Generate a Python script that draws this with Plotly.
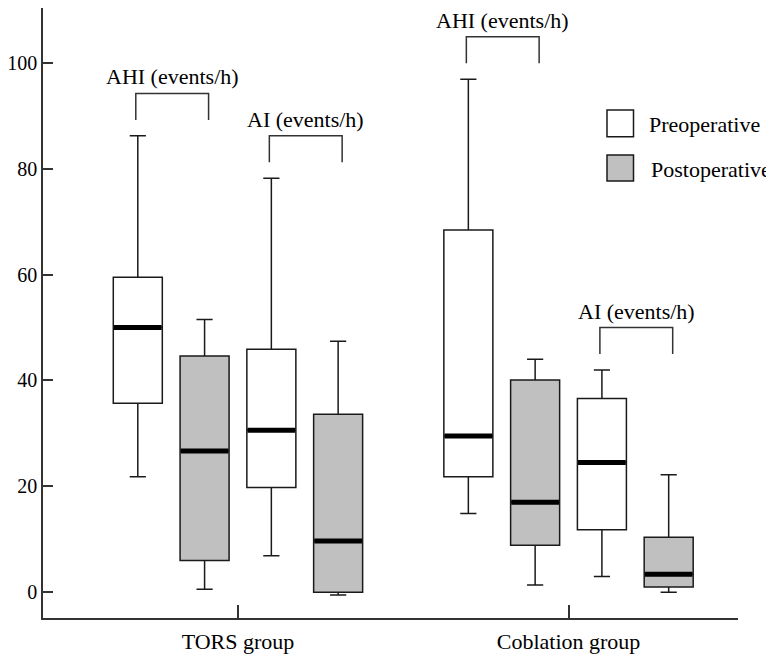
import plotly.graph_objects as go

# ---- data ----
group_labels = ["TORS group", "Coblation group"]
phase_names = ["Preoperative", "Postoperative"]
box_positions = [1, 2, 3, 4, 5.95, 6.95, 7.95, 8.95]
box_phase = [0, 1, 0, 1, 0, 1, 0, 1]
lower_whisker = [21.8, 0.6, 6.9, -0.5, 14.9, 1.4, 3.0, 0.0]
q1_values = [35.7, 6.0, 19.8, 0.0, 21.8, 8.9, 11.8, 1.0]
median_values = [50.0, 26.7, 30.6, 9.7, 29.5, 17.0, 24.5, 3.4]
q3_values = [59.5, 44.6, 45.9, 33.6, 68.4, 40.1, 36.6, 10.4]
upper_whisker = [86.2, 51.5, 78.2, 47.4, 96.9, 44.0, 42.0, 22.2]
bracket_labels = ["AHI (events/h)", "AI (events/h)", "AHI (events/h)", "AI (events/h)"]
bracket_pairs = [(0, 1), (2, 3), (4, 5), (6, 7)]
y_ticks = [0, 20, 40, 60, 80, 100]

# ---- styling ----
FONT = "Liberation Serif"
FILLS = ["#ffffff", "#c0c0c0"]
LINE = "#1a1a1a"
BOX_W = 0.734

fig = go.Figure()

for i, pos in enumerate(box_positions):
    fig.add_trace(go.Box(
        x=[pos], q1=[q1_values[i]], median=[median_values[i]], q3=[q3_values[i]],
        lowerfence=[lower_whisker[i]], upperfence=[upper_whisker[i]],
        width=BOX_W, whiskerwidth=0.33, boxpoints=False,
        fillcolor=FILLS[box_phase[i]], line=dict(color=LINE, width=1.5),
        showlegend=False, hoverinfo="skip",
    ))

# thick median bars
mx, my = [], []
for i, pos in enumerate(box_positions):
    mx += [pos - BOX_W / 2 + 0.01, pos + BOX_W / 2 - 0.01, None]
    my += [median_values[i], median_values[i], None]
fig.add_trace(go.Scatter(x=mx, y=my, mode="lines", line=dict(color="#000000", width=5),
                         showlegend=False, hoverinfo="skip"))

# brackets above each pair
bx, by = [], []
for k, (a, b) in enumerate(bracket_pairs):
    base = max(upper_whisker[a], upper_whisker[b]) + 3.0
    top = base + 5.0
    xl = box_positions[a] - 0.03
    xr = box_positions[a] + 1.06
    bx += [xl, xl, xr, xr, None]
    by += [base, top, top, base, None]
    fig.add_annotation(x=(xl + xr) / 2, y=top, text=bracket_labels[k], showarrow=False,
                       xanchor="center", yanchor="bottom", yshift=2,
                       font=dict(family=FONT, size=22, color="#000000"))
fig.add_trace(go.Scatter(x=bx, y=by, mode="lines", line=dict(color="#333333", width=1.5),
                         showlegend=False, hoverinfo="skip"))

# manual legend (paper coordinates; page has an 8px body margin)
W, H = 695.0, 610.0
def px(x):
    return (x - 43) / W
def py(y):
    return (618 - y) / H
legend_rows = [(110, 136.7), (155, 181)]
for j, (y0, y1) in enumerate(legend_rows):
    fig.add_shape(type="rect", xref="paper", yref="paper",
                  x0=px(607), x1=px(633.5), y0=py(y1), y1=py(y0),
                  fillcolor=FILLS[j], line=dict(color=LINE, width=1.5))
    fig.add_annotation(xref="paper", yref="paper", x=px(647 + 2 * j), y=py((y0 + y1) / 2 + 1),
                       text=phase_names[j], showarrow=False, xanchor="left", yanchor="middle",
                       font=dict(family=FONT, size=22, color="#000000"))

group_ticks = [(box_positions[0] + box_positions[3]) / 2, (box_positions[4] + box_positions[7]) / 2]

fig.update_layout(
    width=766, height=652,
    margin=dict(l=35, r=36, t=0, b=42, autoexpand=False),
    paper_bgcolor="#ffffff", plot_bgcolor="#ffffff",
    font=dict(family=FONT, size=22, color="#000000"),
    showlegend=False,
)
fig.update_xaxes(
    range=[-0.4196, 9.988], showgrid=False, zeroline=False,
    showline=True, linecolor="#333333", linewidth=1.5,
    tickvals=group_ticks, ticktext=group_labels,
    ticks="inside", ticklen=13, tickwidth=1.5, tickcolor="#333333",
    ticklabelstandoff=3, automargin=False,
    tickfont=dict(family=FONT, size=22, color="#000000"),
)
fig.update_yaxes(
    range=[-4.85, 110.33], showgrid=False, zeroline=False,
    showline=True, linecolor="#333333", linewidth=1.5,
    tickvals=y_ticks, ticks="inside", ticklen=10, tickwidth=1.5, tickcolor="#333333",
    ticklabelstandoff=0, automargin=False,
    tickfont=dict(family=FONT, size=20, color="#000000"),
)

fig.write_html("out.html")
